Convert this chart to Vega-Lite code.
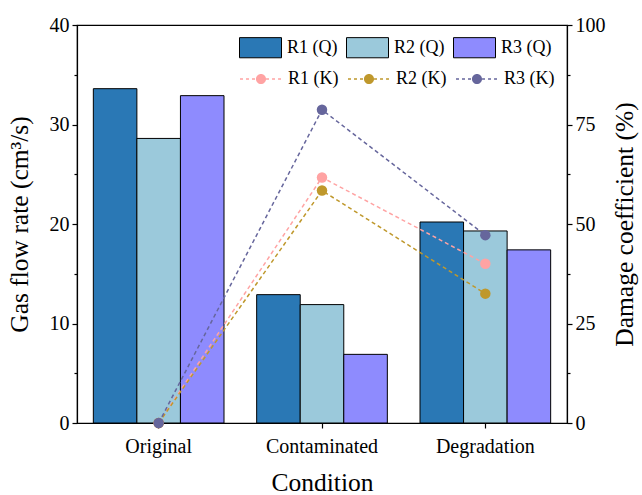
{
  "$schema": "https://vega.github.io/schema/vega-lite/v6.json",
  "width": 490,
  "height": 398,
  "autosize": {"type": "none"},
  "padding": {"left": 77, "top": 25, "right": 75, "bottom": 72},
  "config": {
    "font": "Liberation Serif",
    "view": {"stroke": "black", "strokeWidth": 1.2},
    "axis": {"grid": false, "domainColor": "black", "tickColor": "black", "labelColor": "black", "titleColor": "black", "labelFont": "Liberation Serif", "titleFont": "Liberation Serif", "labelFontSize": 20, "titleFontSize": 25.5, "titleFontWeight": "normal", "domainWidth": 1.2, "tickWidth": 1.2},
    "legend": {"labelFont": "Liberation Serif", "labelFontSize": 18, "labelColor": "black"}
  },
  "datasets": {
    "q": [
      {"Condition": "Original", "series": "R1 (Q)", "Q": 33.6},
      {"Condition": "Original", "series": "R2 (Q)", "Q": 28.6},
      {"Condition": "Original", "series": "R3 (Q)", "Q": 32.9},
      {"Condition": "Contaminated", "series": "R1 (Q)", "Q": 12.9},
      {"Condition": "Contaminated", "series": "R2 (Q)", "Q": 11.9},
      {"Condition": "Contaminated", "series": "R3 (Q)", "Q": 6.9},
      {"Condition": "Degradation", "series": "R1 (Q)", "Q": 20.2},
      {"Condition": "Degradation", "series": "R2 (Q)", "Q": 19.3},
      {"Condition": "Degradation", "series": "R3 (Q)", "Q": 17.4}
    ],
    "k": [
      {"Condition": "Original", "series": "R1 (K)", "K": 0},
      {"Condition": "Original", "series": "R2 (K)", "K": 0},
      {"Condition": "Original", "series": "R3 (K)", "K": 0},
      {"Condition": "Contaminated", "series": "R1 (K)", "K": 61.7},
      {"Condition": "Contaminated", "series": "R2 (K)", "K": 58.4},
      {"Condition": "Contaminated", "series": "R3 (K)", "K": 78.7},
      {"Condition": "Degradation", "series": "R1 (K)", "K": 40.0},
      {"Condition": "Degradation", "series": "R2 (K)", "K": 32.5},
      {"Condition": "Degradation", "series": "R3 (K)", "K": 47.2}
    ]
  },
  "encoding": {
    "x": {
      "field": "Condition", "type": "nominal", "sort": ["Original", "Contaminated", "Degradation"],
      "scale": {"paddingInner": 0.2, "paddingOuter": 0.1},
      "axis": {"title": "Condition", "labelAngle": 0, "tickSize": 5, "labelPadding": 8, "titlePadding": 14}
    }
  },
  "layer": [
    {
      "data": {"name": "q"},
      "mark": {"type": "bar", "stroke": "black", "strokeWidth": 1},
      "encoding": {
        "xOffset": {"field": "series", "type": "nominal"},
        "y": {
          "field": "Q", "type": "quantitative",
          "scale": {"domain": [0, 40], "nice": false},
          "axis": {
            "title": "Gas flow rate (cm³/s)", "orient": "left",
            "values": [0, 5, 10, 15, 20, 25, 30, 35, 40],
            "labelExpr": "datum.value % 10 === 0 ? datum.label : ''",
            "tickSize": {"condition": {"test": "datum.value % 10 === 0", "value": 5}, "value": 3},
            "labelPadding": 3, "titlePadding": 17
          }
        },
        "fill": {
          "field": "series", "type": "nominal",
          "scale": {"domain": ["R1 (Q)", "R2 (Q)", "R3 (Q)"], "range": ["#2a78b5", "#9bc9db", "#8e8bfe"]},
          "legend": {
            "title": null, "orient": "none", "legendX": 162, "legendY": 1, "direction": "horizontal", "columns": 3,
            "symbolType": "M-1,-0.48H1V0.48H-1Z", "symbolSize": 1764, "symbolStrokeColor": "black", "symbolStrokeWidth": 1,
            "symbolOpacity": 1, "labelOffset": 5, "columnPadding": 6
          }
        }
      }
    },
    {
      "data": {"name": "k"},
      "encoding": {
        "y": {
          "field": "K", "type": "quantitative",
          "scale": {"domain": [0, 100], "nice": false},
          "axis": {
            "title": "Damage coefficient (%)", "orient": "right", "titleAngle": 270,
            "values": [0, 12.5, 25, 37.5, 50, 62.5, 75, 87.5, 100],
            "labelExpr": "datum.value % 25 === 0 ? datum.label : ''",
            "tickSize": {"condition": {"test": "datum.value % 25 === 0", "value": 5}, "value": 3},
            "labelPadding": 3, "titlePadding": 32
          }
        }
      },
      "layer": [
        {
          "mark": {"type": "line", "strokeDash": [4, 3], "strokeWidth": 1.5},
          "encoding": {
            "stroke": {
              "field": "series", "type": "nominal",
              "scale": {"domain": ["R1 (K)", "R2 (K)", "R3 (K)"], "range": ["#ffa3a3", "#bf982c", "#66669c"]},
              "legend": {
                "title": null, "orient": "none", "legendX": 162, "legendY": 32, "direction": "horizontal", "columns": 3,
                "symbolType": "M-1,0H-0.24M0.24,0H1", "symbolSize": 1764,
                "symbolDash": [3, 3], "symbolStrokeWidth": 1.5, "labelOffset": 5, "columnPadding": 6
              }
            }
          }
        },
        {
          "mark": {"type": "point", "filled": true, "size": 110, "opacity": 1, "shape": "circle"},
          "encoding": {
            "fill": {
              "field": "series", "type": "nominal",
              "scale": {"domain": ["R1 (K)", "R2 (K)", "R3 (K)"], "range": ["#ffa3a3", "#bf982c", "#66669c"]},
              "legend": {
                "title": null, "orient": "none", "legendX": 162, "legendY": 32, "direction": "horizontal", "columns": 3,
                "symbolType": "M-1,0L-1,0M1,0L1,0M0.24,0A0.24,0.24,0,1,1,-0.24,0A0.24,0.24,0,1,1,0.24,0Z", "symbolSize": 1764,
                "symbolStrokeColor": "transparent", "symbolStrokeWidth": 1.5, "labelOffset": 5, "columnPadding": 6, "labelOpacity": 0
              }
            }
          }
        }
      ]
    }
  ],
  "resolve": {"scale": {"y": "independent", "fill": "independent"}, "axis": {"y": "independent"}}
}
